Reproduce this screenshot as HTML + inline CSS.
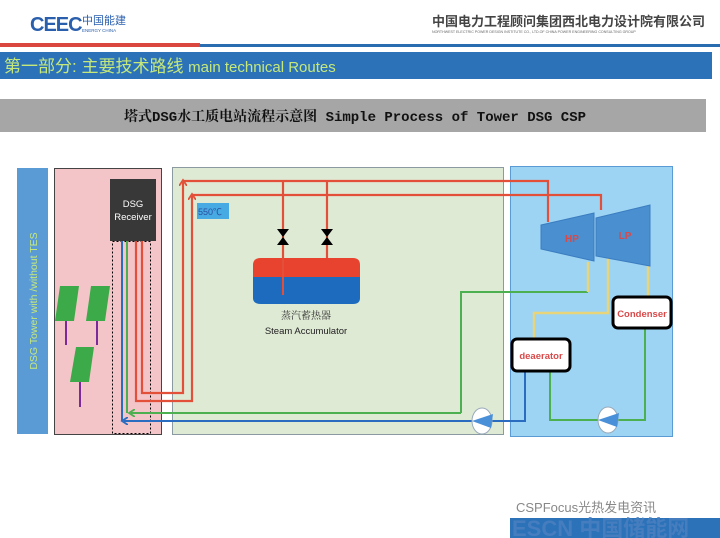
<!DOCTYPE html>
<html><head><meta charset="utf-8"><style>
body{margin:0;width:720px;height:538px;overflow:hidden;background:#fff;font-family:"Liberation Sans","Noto Sans CJK SC",sans-serif}
svg{position:absolute;left:0;top:0}
</style></head><body>
<svg width="720" height="538" viewBox="0 0 720 538" xmlns="http://www.w3.org/2000/svg">
<defs>
<marker id="ar" markerWidth="8" markerHeight="8" refX="4" refY="4" orient="auto" markerUnits="userSpaceOnUse"><path d="M0,0 L6,4 L0,8" fill="none" stroke-width="1.8" stroke="context-stroke"/></marker>
</defs>
<text x="30" y="31" font-size="20" font-weight="bold" fill="#2a5fae" letter-spacing="-1">CEEC</text>
<text x="82" y="24" font-size="11" fill="#2a5fae" font-family="Noto Sans CJK SC,sans-serif">中国能建</text>
<text x="82" y="32" font-size="4.5" fill="#2a5fae">ENERGY CHINA</text>
<text x="432" y="26" font-size="13" fill="#444" font-family="Noto Sans CJK SC,sans-serif" font-weight="bold">中国电力工程顾问集团西北电力设计院有限公司</text>
<text x="432" y="33" font-size="3.6" fill="#666">NORTHWEST ELECTRIC POWER DESIGN INSTITUTE CO., LTD.OF CHINA POWER ENGINEERING CONSULTING GROUP</text>
<rect x="0" y="43" width="200" height="4" fill="#d9473f"/>
<rect x="200" y="44" width="520" height="3" fill="#2a6cb0"/>
<rect x="0" y="52" width="712" height="27" fill="#2b72b8"/>
<text x="4" y="72" font-size="17" fill="#c6e87a" font-family="Liberation Sans,Noto Sans CJK SC,sans-serif">第一部分: 主要技术路线 <tspan font-size="15">main technical Routes</tspan></text>
<rect x="0" y="99" width="706" height="33" fill="#a6a6a6"/>
<text x="355" y="121" font-size="14" font-weight="bold" text-anchor="middle" fill="#111" font-family="Liberation Mono,Noto Serif CJK SC,monospace">塔式DSG水工质电站流程示意图 Simple Process of Tower DSG CSP</text>
<rect x="17" y="168" width="31" height="266" fill="#5b9bd5"/>
<text transform="translate(37,301) rotate(-90)" font-size="10.5" text-anchor="middle" fill="#c6e87a">DSG Tower with /without TES</text>
<rect x="54.5" y="168.5" width="107" height="266" fill="#f4c5c8" stroke="#444"/>
<rect x="172.5" y="167.5" width="331" height="267" fill="#dfead5" stroke="#8a9aa0"/>
<rect x="510.5" y="166.5" width="162" height="270" fill="#9dd4f3" stroke="#5b9bd5"/>
<rect x="110" y="179" width="46" height="62" fill="#383838"/>
<text x="133" y="207" font-size="9.5" fill="#fff" text-anchor="middle">DSG</text>
<text x="133" y="220" font-size="9.5" fill="#fff" text-anchor="middle">Receiver</text>
<rect x="112.5" y="241.5" width="38" height="192" fill="none" stroke="#000" stroke-dasharray="2,2"/>
<path d="M60,286 L79,286 L74,321 L55,321Z" fill="#3daa49"/><path d="M66,321 V345" stroke="#7a2a9a" stroke-width="2"/>
<path d="M91,286 L110,286 L105,321 L86,321Z" fill="#3daa49"/><path d="M97,321 V345" stroke="#7a2a9a" stroke-width="2"/>
<path d="M76,347 L94,347 L89,382 L70,382Z" fill="#3daa49"/><path d="M80,382 V407" stroke="#7a2a9a" stroke-width="2"/>
<g fill="none" stroke="#e3503a" stroke-width="2.2">
<path d="M142,241 V393 H183 V182" marker-end="url(#ar)"/>
<path d="M183,181 H548 V222"/>
<path d="M136,241 V401 H192 V196" marker-end="url(#ar)"/>
<path d="M192,195 H601 V210"/>
<path d="M283,181 V295"/><path d="M327,181 V258"/>
</g>
<path d="M277,229 L289,229 L283,237Z M277,245 L289,245 L283,237Z M321,229 L333,229 L327,237Z M321,245 L333,245 L327,237Z" fill="#000"/>
<path d="M261,258 H353 Q360,258 360,265 V277 H253 V265 Q253,258 261,258Z" fill="#e8432e"/>
<path d="M253,277 H360 V298 Q360,304 353,304 H261 Q253,304 253,298Z" fill="#1c6bbf"/>
<path d="M283,258 V295" stroke="#e3503a" stroke-width="2"/>
<text x="306" y="319" font-size="10" text-anchor="middle" fill="#333" font-family="Noto Serif CJK SC,serif">蒸汽蓄热器</text>
<text x="306" y="334" font-size="9.5" text-anchor="middle" fill="#222">Steam Accumulator</text>
<rect x="197" y="203" width="32" height="16" fill="#48aae2"/>
<text x="198" y="215" font-size="9" fill="#2a4fa0">550℃</text>
<g fill="none" stroke-width="2">
<path d="M461,413 H131" stroke="#4caf50" marker-end="url(#ar)"/>
<path d="M461,413 V292 H588" stroke="#4caf50"/>
<path d="M127,241 V413" stroke="#4caf50"/>
<path d="M472,421 H124" stroke="#2a6cc0" marker-end="url(#ar)"/>
<path d="M492,421 H525 V372" stroke="#2a6cc0"/>
<path d="M122,241 V421" stroke="#2a6cc0"/>
<path d="M550,372 V420 H599 M618,420 H645 V328" stroke="#4caf50"/>
<path d="M588,262 V292 M608,258 V313 H534 V340 M648,266 V297" stroke="#e8d47a" stroke-width="2.5"/>
</g>
<path d="M541,225 L594,213 L594,261 L541,249Z" fill="#4a8fd0" stroke="#3a7cc0"/>
<path d="M596,218 L650,205 L650,266 L596,256Z" fill="#4a8fd0" stroke="#3a7cc0"/>
<text x="572" y="242" font-size="10" font-weight="bold" fill="#d84a4a" text-anchor="middle">HP</text>
<text x="625" y="239" font-size="10" font-weight="bold" fill="#d84a4a" text-anchor="middle">LP</text>
<rect x="613" y="297" width="58" height="31" rx="5" fill="#fff" stroke="#000" stroke-width="3"/>
<text x="642" y="317" font-size="9.5" font-weight="bold" fill="#d84a4a" text-anchor="middle">Condenser</text>
<rect x="512" y="339" width="58" height="32" rx="5" fill="#fff" stroke="#000" stroke-width="3"/>
<text x="541" y="359" font-size="9.5" font-weight="bold" fill="#d84a4a" text-anchor="middle">deaerator</text>
<g><ellipse cx="482" cy="421" rx="10" ry="13" fill="#fff" stroke="#9ab"/><path d="M472,421 L493,414 L491,428Z" fill="#4a90d8"/></g>
<g><ellipse cx="608" cy="420" rx="10" ry="13" fill="#fff" stroke="#9ab"/><path d="M598,420 L619,413 L617,427Z" fill="#4a90d8"/></g>
<rect x="510" y="518" width="210" height="20" fill="#2b72b8"/>
<text x="516" y="512" font-size="13" fill="#888">CSPFocus光热发电资讯</text>
<text x="512" y="536" font-size="22" font-weight="bold" fill="#4a7fc0" opacity="0.85">ESCN 中国储能网</text>
</svg>
</body></html>
